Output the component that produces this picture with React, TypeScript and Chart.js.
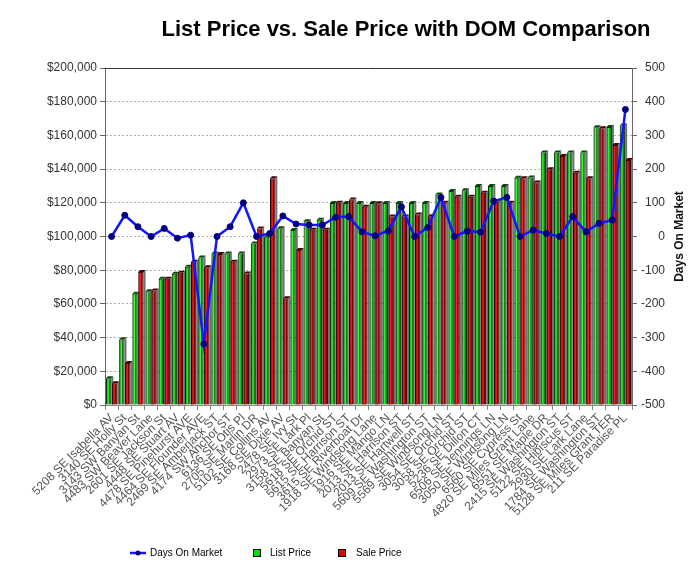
import React, { useEffect, useRef } from 'react';
import { Chart, registerables } from 'chart.js';

Chart.register(...registerables);

const chartTitle = 'List Price vs. Sale Price with DOM Comparison';
const rightAxisTitle = 'Days On Market';

const addresses = [
  '5208 SE Isabella AV', '3140 SE Holly St', '3143 SW Banyan St', '4483 SW Beaver Lane',
  '2601 SE Jackson St', '4448 SE Stuart AV', '4478 SE Pinehurst AVE', '4464 SE Flounder AVE',
  '2469 SE Amberjack ST', '4174 SW Anchor ST', '6136 SE Otis Pl', '2705 SE Marlin DR',
  '5102 SE Collins AV', '3168 SE Dixie AV', '2478 SE Ivy St', '2973 SE Lark Pl',
  '3158 SE Banyan St', '5618 SE Orchid ST', '5615 SE Harrison ST', '3615 SE Riverboat Dr',
  '1918 SE Windsong Lane', '1916 SE Mango LN', '2013 SE Harrison ST', '2013 SE Hartwell ST',
  '5609 SE Washington ST', '5569 SE Windsong LN', '3054 SE Orchid ST', '3058 SE Orchid ST',
  '5236 SE Dillon CT', '6506 SE Jennings LN', '3050 SE Windsong LN', '6560 SE Cypress St',
  '4820 SE Miles Grant Lane', '6551 SE Maple DR', '2415 SE Washington ST', '5122 SE Hibiscus ST',
  '2930 SE Lark Lane', '1784 SE Washington ST', '5128 SE Miles Grant TER', '211 SE Paradise PL',
];

const listPrice = [
  15900, 39000, 66000, 67500, 74900, 77900, 82000, 87500, 89900, 89900,
  89900, 95900, 99900, 104900, 103900, 109000, 109900, 119900, 119900, 119900,
  119900, 119900, 119900, 119900, 119900, 124900, 127000, 127500, 129900, 129900,
  129900, 134900, 135000, 149900, 149900, 149900, 149900, 164900, 165000, 165900,
];

const salePrice = [
  12900, 25000, 79000, 68000, 75000, 78500, 85000, 81700, 89600, 85000,
  78000, 104700, 134500, 63300, 92000, 104000, 104000, 120000, 122000, 117700,
  119700, 111800, 111800, 113000, 112000, 120000, 123600, 123600, 126000, 120700,
  120000, 134500, 132000, 139900, 147800, 137900, 134500, 164200, 154300, 145400,
];

const daysOnMarket = [
  0, 63, 29, 0, 24, -5, 4, -319, 0, 29,
  100, 0, 9, 61, 37, 34, 34, 57, 59, 14,
  2, 17, 88, 0, 27, 116, 0, 16, 13, 105,
  116, 0, 19, 9, 0, 59, 14, 39, 49, 377,
];

const FONT = '"Liberation Sans", Arial, Helvetica, sans-serif';

export default function App() {
  const ref = useRef<HTMLCanvasElement>(null);

  useEffect(() => {
    const canvas = ref.current;
    if (!canvas) return;

    const decor = {
      id: 'decor',
      beforeDatasetsDraw(chart: any) {
        const ctx = chart.ctx;
        [1, 2].forEach((di) => {
          const meta = chart.getDatasetMeta(di);
          meta.data.forEach((el: any) => {
            const { x, y, base, width } = el.getProps(['x', 'y', 'base', 'width'], true);
            const r = x + width / 2;
            const l = x - width / 2;
            const d = 2;
            ctx.save();
            ctx.fillStyle = '#707070';
            ctx.beginPath();
            ctx.moveTo(r, base);
            ctx.lineTo(r, y);
            ctx.lineTo(r + d, y - d);
            ctx.lineTo(r + d, base);
            ctx.closePath();
            ctx.fill();
            ctx.fillStyle = di === 1 ? '#0a4a0a' : '#4a0000';
            ctx.beginPath();
            ctx.moveTo(l, y);
            ctx.lineTo(l + d, y - d);
            ctx.lineTo(r + d, y - d);
            ctx.lineTo(r, y);
            ctx.closePath();
            ctx.fill();
            ctx.restore();
          });
        });
      },
      afterDatasetDraw(chart: any, args: any) {
        if (args.index !== 1 && args.index !== 2) return;
        const ctx = chart.ctx;
        const meta = chart.getDatasetMeta(args.index);
        ctx.save();
        ctx.fillStyle = args.index === 1 ? '#33ff33' : '#ff2020';
        meta.data.forEach((el: any) => {
          const { x, y, base, width } = el.getProps(['x', 'y', 'base', 'width'], true);
          const l = x - width / 2;
          ctx.fillRect(l + 1.5, y + 1, 1.3, base - y - 1);
        });
        ctx.restore();
      },
      afterDraw(chart: any) {
        const ctx = chart.ctx;
        const area = chart.chartArea;
        ctx.save();
        ctx.strokeStyle = '#333';
        ctx.lineWidth = 1;
        ctx.beginPath();
        ctx.moveTo(area.left, area.top + 0.5);
        ctx.lineTo(area.right, area.top + 0.5);
        ctx.stroke();

        ctx.fillStyle = '#000';
        ctx.font = `bold 22px ${FONT}`;
        ctx.textAlign = 'center';
        ctx.textBaseline = 'middle';
        ctx.fillText(chartTitle, 398, 22);

        ctx.save();
        ctx.translate(672, (area.top + area.bottom) / 2);
        ctx.rotate(-Math.PI / 2);
        ctx.font = `bold 12px ${FONT}`;
        ctx.fillStyle = '#111';
        ctx.textAlign = 'center';
        ctx.textBaseline = 'middle';
        ctx.fillText(rightAxisTitle, 0, 0);
        ctx.restore();

        const ly = 545;
        const ds = chart.data.datasets;
        ctx.font = `10px ${FONT}`;
        ctx.textAlign = 'left';
        ctx.textBaseline = 'middle';
        ctx.strokeStyle = '#1515ff';
        ctx.lineWidth = 2.5;
        ctx.beginPath();
        ctx.moveTo(122, ly);
        ctx.lineTo(138, ly);
        ctx.stroke();
        ctx.fillStyle = '#000080';
        ctx.beginPath();
        ctx.arc(130, ly, 2.5, 0, Math.PI * 2);
        ctx.fill();
        ctx.fillStyle = '#000';
        ctx.fillText(ds[0].label, 142, ly);

        ctx.fillStyle = '#00e000';
        ctx.fillRect(245, ly - 3.5, 7, 7);
        ctx.strokeStyle = '#000';
        ctx.lineWidth = 1;
        ctx.strokeRect(245.5, ly - 3.5, 7, 7);
        ctx.fillStyle = '#000';
        ctx.fillText(ds[1].label, 262, ly);

        ctx.fillStyle = '#e00000';
        ctx.fillRect(330, ly - 3.5, 7, 7);
        ctx.strokeRect(330.5, ly - 3.5, 7, 7);
        ctx.fillStyle = '#000';
        ctx.fillText(ds[2].label, 348, ly);
        ctx.restore();
      },
    };

    const chart = new Chart(canvas, {
      data: {
        labels: addresses,
        datasets: [
          {
            type: 'line',
            label: 'Days On Market',
            data: daysOnMarket,
            yAxisID: 'y1',
            borderColor: '#1515ff',
            borderWidth: 2.5,
            pointRadius: 3,
            pointBackgroundColor: '#000080',
            pointBorderColor: '#000080',
            pointBorderWidth: 1,
            tension: 0,
            order: 0,
          },
          {
            type: 'bar',
            label: 'List Price',
            data: listPrice,
            yAxisID: 'y',
            backgroundColor: '#137f13',
            borderColor: '#052805',
            borderWidth: 1,
            categoryPercentage: 0.9,
            barPercentage: 0.9,
            order: 1,
          },
          {
            type: 'bar',
            label: 'Sale Price',
            data: salePrice,
            yAxisID: 'y',
            backgroundColor: '#7c0000',
            borderColor: '#2a0000',
            borderWidth: 1,
            categoryPercentage: 0.9,
            barPercentage: 0.9,
            order: 1,
          },
        ],
      } as any,
      options: {
        animation: false,
        responsive: false,
        devicePixelRatio: 1,
        layout: { padding: { top: 60, right: 27, bottom: 40, left: 0 } },
        plugins: {
          legend: { display: false },
          title: { display: false },
          tooltip: { enabled: false },
        },
        font: { family: FONT },
        scales: {
          x: {
            offset: true,
            grid: {
              display: true,
              drawOnChartArea: false,
              drawTicks: true,
              tickLength: 5,
              color: '#888',
            },
            border: { display: true, color: '#888' },
            ticks: {
              autoSkip: false,
              maxRotation: 45,
              minRotation: 45,
              padding: 1,
              color: '#555',
              font: { size: 12, family: FONT },
            },
            afterFit: (s: any) => {
              s.height = 132;
            },
          },
          y: {
            position: 'left',
            min: 0,
            max: 200000,
            ticks: {
              stepSize: 20000,
              padding: 3,
              color: '#333',
              font: { size: 12, family: FONT },
              callback: (v: any) => '$' + Number(v).toLocaleString('en-US'),
            },
            grid: { color: '#b0b0b0', tickColor: '#666', tickLength: 5, lineWidth: 1 },
            border: { display: true, color: '#666', dash: [2, 2] },
            afterFit: (s: any) => {
              s.width = 97;
            },
          },
          y1: {
            position: 'right',
            min: -500,
            max: 500,
            ticks: {
              stepSize: 100,
              padding: 3,
              crossAlign: 'far',
              color: '#333',
              font: { size: 12, family: FONT },
            },
            grid: { drawOnChartArea: false, tickLength: 5, color: '#666' },
            border: { display: true, color: '#666' },
            afterFit: (s: any) => {
              s.width = 33;
            },
          },
        },
      } as any,
      plugins: [decor],
    });

    return () => chart.destroy();
  }, []);

  return (
    <div style={{ width: 684, height: 569, position: 'relative', background: '#fff' }}>
      <canvas ref={ref} width={684} height={569} style={{ display: 'block' }} />
    </div>
  );
}
